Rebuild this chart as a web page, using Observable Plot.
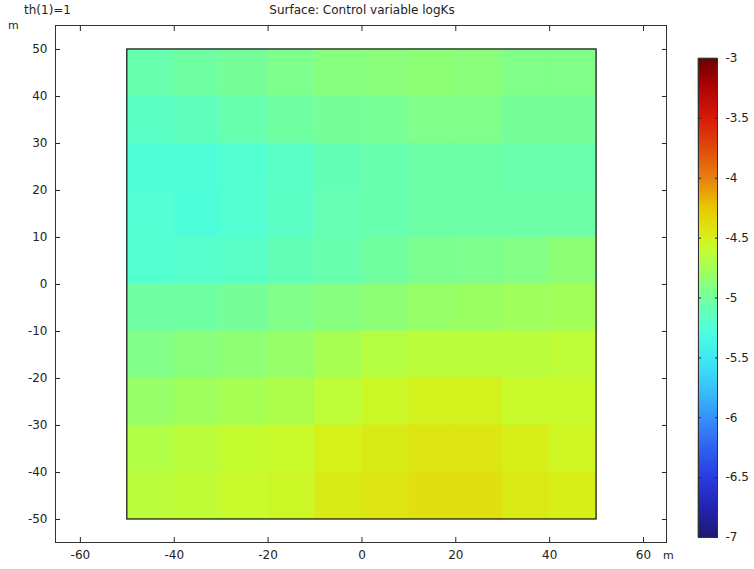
<!DOCTYPE html>
<html>
<head>
<meta charset="utf-8">
<script src="https://cdn.jsdelivr.net/npm/d3@7"></script>
<script src="https://cdn.jsdelivr.net/npm/@observablehq/plot@0.6"></script>
<style>
  html, body { margin: 0; padding: 0; background: #fff; }
  #wrap { position: relative; width: 754px; height: 569px; font-family: "DejaVu Sans", sans-serif; color: #222; overflow: hidden; }
  .lbl { position: absolute; font-size: 12px; white-space: nowrap; line-height: 1; }
  #main { position: absolute; left: 0; top: 0; }
  #cbar { position: absolute; left: 690px; top: 0; }
</style>
</head>
<body>
<div id="wrap">
  <div id="main"></div>
  <div id="cbar"></div>
  <div class="lbl" style="left:24px;top:4px;">th(1)=1</div>
  <div class="lbl" style="left:362px;top:4px;transform:translateX(-50%);">Surface: Control variable logKs</div>
  <div class="lbl" style="left:8px;top:20px;font-size:11px;">m</div>
  <div class="lbl" style="left:663px;top:550px;font-size:11px;">m</div>
</div>
<script>
// Cell edges (m)
const xEdges = [-50, -40, -30, -20, -10, 0, 10, 20, 30, 40, 50];
const yEdges = [50, 40, 30, 20, 10, 0, -10, -20, -30, -40, -50];
// logKs per cell, rows from top (y 40..50) to bottom (y -50..-40), columns from x=-50
const logKs = [
  [-5.08, -5.03, -4.99, -4.95, -4.90, -4.89, -4.87, -4.89, -4.93, -4.93],
  [-5.17, -5.14, -5.08, -5.03, -4.99, -4.98, -4.94, -4.94, -4.99, -4.99],
  [-5.25, -5.25, -5.22, -5.18, -5.12, -5.08, -5.05, -5.05, -5.07, -5.07],
  [-5.23, -5.27, -5.22, -5.17, -5.10, -5.08, -5.05, -5.05, -5.05, -5.04],
  [-5.22, -5.20, -5.18, -5.12, -5.08, -5.02, -4.96, -4.95, -4.92, -4.87],
  [-5.03, -5.03, -4.99, -4.94, -4.90, -4.87, -4.82, -4.80, -4.78, -4.76],
  [-4.93, -4.89, -4.86, -4.82, -4.74, -4.67, -4.65, -4.65, -4.65, -4.63],
  [-4.82, -4.78, -4.74, -4.71, -4.63, -4.56, -4.52, -4.52, -4.58, -4.58],
  [-4.69, -4.64, -4.60, -4.58, -4.50, -4.47, -4.43, -4.43, -4.49, -4.54],
  [-4.64, -4.62, -4.58, -4.56, -4.47, -4.43, -4.40, -4.40, -4.46, -4.49]
];
// Color map (value stops and colors)
const cStops = [-7.0, -6.75, -6.5, -6.25, -6.0, -5.75, -5.5, -5.25, -5.0, -4.75, -4.6, -4.5, -4.4, -4.25, -4.0, -3.75, -3.5, -3.25, -3.0];
const cColors = ["#1c1c72", "#2224b0", "#2a3ce0", "#2f62f0", "#3592fb", "#38c4fb", "#3ceaf0", "#50ffd8", "#74ff9c", "#a4ff54", "#c4fc30", "#d6f01a", "#e0e010", "#e8c800", "#e88012", "#e04a0a", "#d81a08", "#b00404", "#700000"];
// Axis ticks
const xTicks = [-60, -40, -20, 0, 20, 40, 60];
const yTicks = [-50, -40, -30, -20, -10, 0, 10, 20, 30, 40, 50];
const cTicks = [-7, -6.5, -6, -5.5, -5, -4.5, -4, -3.5, -3];
const xDomain = [-65.3, 64.9];
const yDomain = [-54.9, 55.1];
const cDomain = [-7, -3];

const cells = [];
logKs.forEach((row, i) => row.forEach((v, j) => {
  cells.push({x1: xEdges[j], x2: xEdges[j + 1], y1: yEdges[i + 1], y2: yEdges[i], v});
}));
const bounds = [{x1: d3.min(xEdges), x2: d3.max(xEdges), y1: d3.min(yEdges), y2: d3.max(yEdges)}];

const colorOpts = {type: "linear", domain: cStops, range: cColors, interpolate: "rgb", clamp: true};
const font = "DejaVu Sans, sans-serif";
const fmt = d => String(d);

const main = Plot.plot({
  width: 690, height: 569,
  marginLeft: 55, marginRight: 24, marginTop: 25, marginBottom: 27,
  style: {fontFamily: font, fontSize: "12px", color: "#222", background: "transparent"},
  x: {domain: xDomain, ticks: xTicks, label: null},
  y: {domain: yDomain, ticks: yTicks, label: null},
  color: colorOpts,
  marks: [
    Plot.rect(cells, {x1: "x1", x2: "x2", y1: "y1", y2: "y2", fill: "v", inset: -0.3}),
    Plot.rect(bounds, {x1: "x1", x2: "x2", y1: "y1", y2: "y2", fill: "none", stroke: "#111", strokeWidth: 1.2}),
    Plot.axisX(xTicks, {anchor: "bottom", tickSize: -5, tickPadding: 13, fontSize: 12, tickFormat: fmt}),
    Plot.axisX(xTicks, {anchor: "top", tickSize: -5, tickFormat: () => ""}),
    Plot.axisY(yTicks, {anchor: "left", tickSize: -5, tickPadding: 13, fontSize: 12, tickFormat: fmt}),
    Plot.axisY(yTicks, {anchor: "right", tickSize: -5, tickFormat: () => ""}),
    Plot.frame({stroke: "#333", strokeWidth: 1})
  ]
});
document.getElementById("main").appendChild(main);

// Colorbar
const nSteps = 240;
const steps = d3.range(nSteps).map(i => {
  const a = cDomain[0] + (cDomain[1] - cDomain[0]) * i / nSteps;
  const b = cDomain[0] + (cDomain[1] - cDomain[0]) * (i + 1) / nSteps;
  return {y1: a, y2: b, v: (a + b) / 2};
});
const cbar = Plot.plot({
  width: 64, height: 569,
  marginLeft: 8, marginRight: 37, marginTop: 58, marginBottom: 32,
  style: {fontFamily: font, fontSize: "12px", color: "#222", background: "transparent", overflow: "visible"},
  x: {domain: [0, 1], axis: null},
  y: {domain: cDomain, ticks: cTicks, label: null},
  color: colorOpts,
  marks: [
    Plot.rect(steps, {x1: 0, x2: 1, y1: "y1", y2: "y2", fill: "v", inset: -0.3}),
    Plot.axisY(cTicks, {anchor: "right", tickSize: -3, tickPadding: 11, fontSize: 12, textAnchor: "start", tickFormat: fmt}),
    Plot.axisY(cTicks, {anchor: "left", tickSize: -3, tickFormat: () => ""}),
    Plot.frame({stroke: "#333", strokeWidth: 1})
  ]
});
document.getElementById("cbar").appendChild(cbar);
</script>
</body>
</html>
